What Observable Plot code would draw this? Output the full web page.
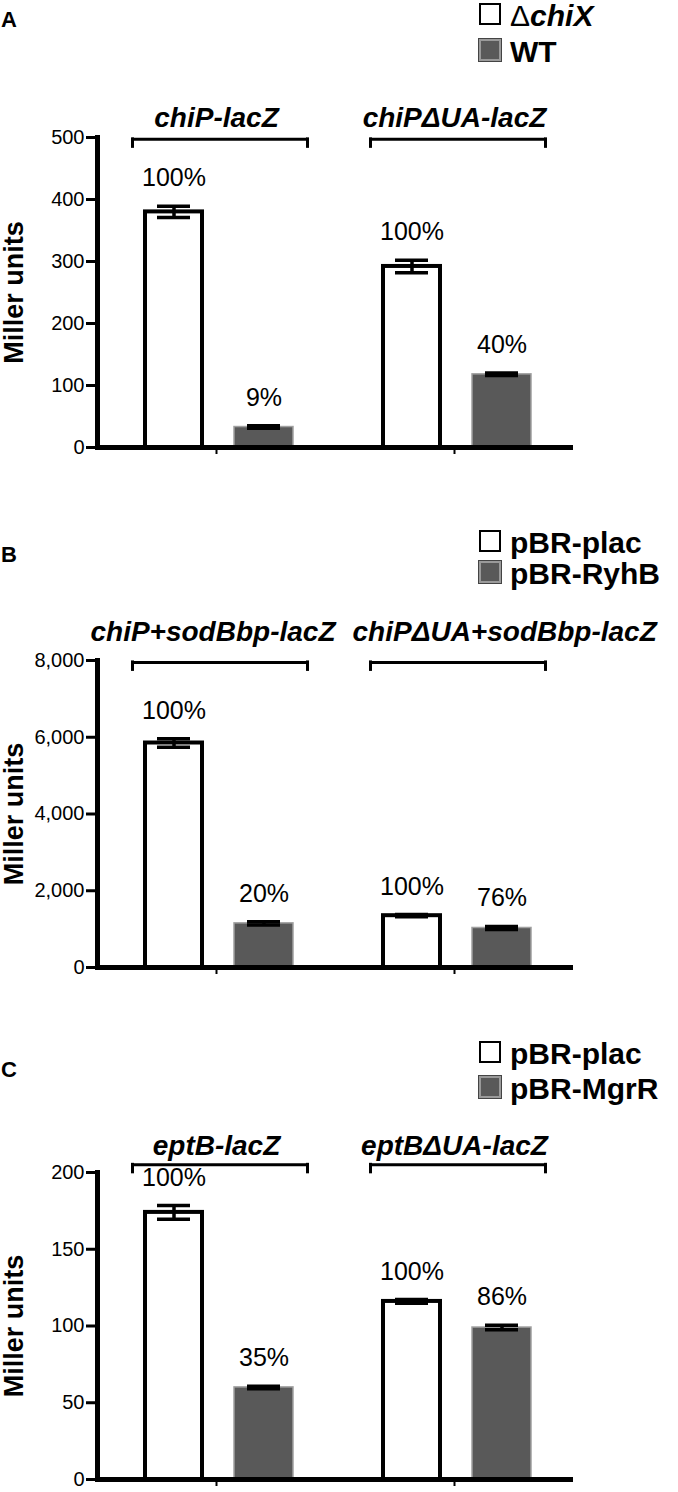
<!DOCTYPE html>
<html>
<head>
<meta charset="utf-8">
<script src="https://cdn.jsdelivr.net/npm/d3@7"></script>
<script src="https://cdn.jsdelivr.net/npm/@observablehq/plot@0.6"></script>
<style>
html, body { margin: 0; padding: 0; background: #fff; }
#fig { position: relative; width: 678px; height: 1492px; overflow: hidden;
  font-family: "Liberation Sans", Arial, Helvetica, sans-serif; color: #000; }
.letter { position: absolute; left: 1px; font-size: 22px; font-weight: bold; line-height: 22px; }
.lrow { position: absolute; left: 479px; height: 30px; line-height: 30px; font-size: 30px;
  font-weight: bold; white-space: nowrap; }
.lbox { position: absolute; left: 0; top: 2px; width: 22px; height: 22px; box-sizing: border-box; }
.lbox.open { background: #fff; border: 2px solid #000; }
.lbox.solid { background: #595959; border: 2px solid #9a9a9a; outline: 1px solid #444; }
.ltext { position: absolute; left: 31px; top: 0; }
.ltext .delta { font-weight: normal; font-style: normal; }
</style>
</head>
<body>
<div id="fig"></div>
<script>
// ---------- data ----------
const fills = ["white", "#595959"];

// Panel A
const groupsA = ["chiP-lacZ", "chiPΔUA-lacZ"];
const seriesA = ["ΔchiX", "WT"];
const valuesA = [380, 33, 292, 118];
const errorsA = [9, 2, 10, 2];
const pctA = ["100%", "9%", "100%", "40%"];
const ticksA = [0, 100, 200, 300, 400, 500];
const bracketA = 497;

// Panel B
const groupsB = ["chiP+sodBbp-lacZ", "chiPΔUA+sodBbp-lacZ"];
const seriesB = ["pBR-plac", "pBR-RyhB"];
const valuesB = [5850, 1150, 1350, 1030];
const errorsB = [110, 40, 30, 40];
const pctB = ["100%", "20%", "100%", "76%"];
const ticksB = [0, 2000, 4000, 6000, 8000];
const bracketB = 7950;

// Panel C
const groupsC = ["eptB-lacZ", "eptBΔUA-lacZ"];
const seriesC = ["pBR-plac", "pBR-MgrR"];
const valuesC = [174, 60, 116, 99];
const errorsC = [4.5, 0.8, 1.2, 1.5];
const pctC = ["100%", "35%", "100%", "86%"];
const ticksC = [0, 50, 100, 150, 200];
const bracketC = 205;

const yLabel = "Miller units";

// ---------- layout ----------
const layout = {
  A: {top: 80, frameTop: 137, frameBottom: 447, marginBottom: 25, letterCap: 12, legendCaps: [5, 41], labelDy: -11, spread: false},
  B: {top: 600, frameTop: 660, frameBottom: 967, marginBottom: 25, letterCap: 547, legendCaps: [532, 563], labelDy: -20, spread: true},
  C: {top: 1110, frameTop: 1172, frameBottom: 1479, marginBottom: 13, letterCap: 1062, legendCaps: [1043, 1078], labelDy: -18, spread: false}
};

const fig = document.getElementById("fig");
const FONT = "'Liberation Sans', Arial, Helvetica, sans-serif";

function drawPanel(letter, d, L) {
  const le = document.createElement("div");
  le.className = "letter";
  le.textContent = letter;
  le.style.top = (L.letterCap - 2.9) + "px";
  fig.appendChild(le);

  d.series.forEach((s, i) => {
    const row = document.createElement("div");
    row.className = "lrow";
    row.style.top = (L.legendCaps[i] - 3.9) + "px";
    const box = document.createElement("span");
    box.className = "lbox " + (i === 0 ? "open" : "solid");
    const txt = document.createElement("span");
    txt.className = "ltext";
    if (s.startsWith("Δ")) {
      const dl = document.createElement("span");
      dl.className = "delta"; dl.textContent = "Δ";
      const it = document.createElement("i");
      it.textContent = s.slice(1);
      txt.append(dl, it);
    } else {
      txt.textContent = s;
    }
    row.append(box, txt);
    fig.appendChild(row);
  });

  const rows = [];
  d.groups.forEach((g, gi) => d.series.forEach((s, si) => {
    const k = gi * d.series.length + si;
    rows.push({group: g, series: s, si, value: d.values[k], err: d.errors[k], pct: d.pct[k]});
  }));

  const width = 678, marginLeft = 97, marginRight = 105;
  const facetW = (width - marginLeft - marginRight) / d.groups.length;
  const xOpts = {paddingInner: 0.322, paddingOuter: 0.483, align: 0.53};
  const bw = d3.scaleBand().domain(d.series).range([0, facetW])
    .paddingInner(xOpts.paddingInner).paddingOuter(xOpts.paddingOuter).align(xOpts.align).bandwidth();
  const marginTop = L.frameTop - L.top;
  const height = marginTop + (L.frameBottom - L.frameTop) + L.marginBottom;
  const ymax = d.ticks[d.ticks.length - 1];

  const labelStyle = {fontSize: 28, fontWeight: "bold", fontStyle: "italic", lineAnchor: "bottom", dy: L.labelDy};
  const labelMarks = L.spread ? [
    Plot.text([d.groups[0]], {fx: g => g, text: g => g, frameAnchor: "top-right", textAnchor: "end", ...labelStyle}),
    Plot.text([d.groups[1]], {fx: g => g, text: g => g, frameAnchor: "top-left", textAnchor: "start", dx: 17, ...labelStyle})
  ] : [
    Plot.text(d.groups, {fx: g => g, text: g => g, frameAnchor: "top", ...labelStyle})
  ];

  const chart = Plot.plot({
    width, height, marginLeft, marginRight, marginTop, marginBottom: L.marginBottom,
    style: `background: transparent; overflow: visible; font-family: ${FONT}; font-size: 20px; color: black; position: absolute; left: 0; top: ${L.top}px;`,
    fx: {domain: d.groups, paddingInner: 0, paddingOuter: 0, label: null},
    x: {domain: d.series, ...xOpts, axis: null},
    y: {domain: [0, ymax]},
    marks: [
      Plot.barY(rows.filter(r => r.si === 0), {fx: "group", x: "series", y: "value", fill: fills[0], stroke: "black", strokeWidth: 4, insetLeft: 2, insetRight: 2}),
      Plot.barY(rows.filter(r => r.si === 1), {fx: "group", x: "series", y: "value", fill: fills[1], stroke: "#a0a0a0", strokeWidth: 1.5, insetLeft: 1, insetRight: 1}),
      Plot.ruleX(rows, {fx: "group", x: "series", y1: r => r.value - r.err, y2: r => r.value + r.err, stroke: "black", strokeWidth: 3.5}),
      Plot.tickY(rows, {fx: "group", x: "series", y: r => r.value + r.err, stroke: "black", strokeWidth: 3.5, inset: 14}),
      Plot.tickY(rows, {fx: "group", x: "series", y: r => r.value - r.err, stroke: "black", strokeWidth: 3.5, inset: 14}),
      Plot.ruleY([0], {stroke: "black", strokeWidth: 5}),
      Plot.frame({anchor: "left", facetAnchor: "left", stroke: "black", strokeWidth: 5}),
      Plot.axisY({ticks: d.ticks, tickFormat: d.fmt, tickSize: 11, tickPadding: 2, strokeWidth: 3, fontSize: 20, label: null}),
      Plot.axisY({ticks: [], tickSize: 0, label: yLabel, labelAnchor: "center", labelOffset: 94, labelArrow: "none", fontSize: 27, fontWeight: "bold"}),
      Plot.axisFx({anchor: "bottom", tickSize: 7, strokeWidth: 2, tickFormat: () => "", label: null}),
      Plot.ruleY(d.groups, {fx: g => g, y: () => d.bracket, x1: () => d.series[0], x2: () => d.series[1], insetLeft: -11, insetRight: -13, stroke: "black", strokeWidth: 3}),
      Plot.ruleX(d.groups, {fx: g => g, x: () => d.series[0], y1: () => d.bracket, y2: () => d.bracket, dx: -(bw / 2 + 11), insetTop: -1.5, insetBottom: -9, stroke: "black", strokeWidth: 3}),
      Plot.ruleX(d.groups, {fx: g => g, x: () => d.series[1], y1: () => d.bracket, y2: () => d.bracket, dx: bw / 2 + 13, insetTop: -1.5, insetBottom: -9, stroke: "black", strokeWidth: 3}),
      Plot.text(rows, {fx: "group", x: "series", y: r => r.value + r.err, text: "pct", lineAnchor: "bottom", dy: -20, fontSize: 25, fill: "black"}),
      ...labelMarks
    ]
  });
  fig.appendChild(chart);
}

drawPanel("A", {groups: groupsA, series: seriesA, values: valuesA, errors: errorsA, pct: pctA, ticks: ticksA, fmt: d3.format("d"), bracket: bracketA}, layout.A);
drawPanel("B", {groups: groupsB, series: seriesB, values: valuesB, errors: errorsB, pct: pctB, ticks: ticksB, fmt: d3.format(","), bracket: bracketB}, layout.B);
drawPanel("C", {groups: groupsC, series: seriesC, values: valuesC, errors: errorsC, pct: pctC, ticks: ticksC, fmt: d3.format("d"), bracket: bracketC}, layout.C);
</script>
</body>
</html>
